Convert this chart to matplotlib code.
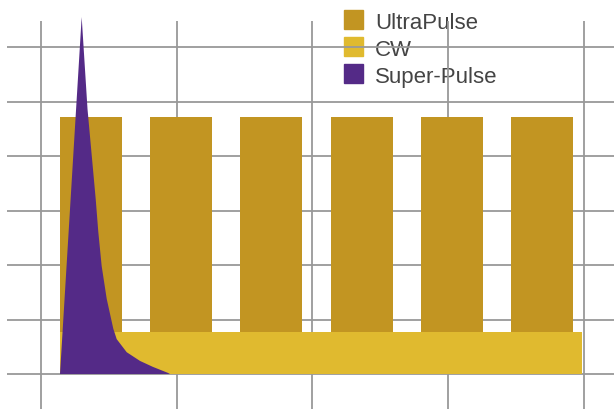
import matplotlib
matplotlib.use("Agg")
import matplotlib.pyplot as plt
from matplotlib.patches import Rectangle

# ---- data ----
ultra_x = [1.10, 3.09, 5.08, 7.09, 9.08, 11.07]
ultra_h = [4.72, 4.72, 4.72, 4.72, 4.72, 4.72]
cw_start = 0.42
cw_end = 11.96
cw_level = 0.77
sp_x = [0.42, 0.899, 1.028, 1.209, 1.266, 1.341, 1.452, 1.598, 1.673, 1.894, 2.188, 2.475, 2.807, 2.85]
sp_y = [0.00, 6.55, 4.86, 3.21, 2.61, 1.98, 1.38, 0.83, 0.64, 0.40, 0.24, 0.13, 0.02, 0.00]
labels = ["UltraPulse", "CW", "Super-Pulse"]

c_ultra = "#C29522"
c_cw = "#E0BA2F"
c_sp = "#542A87"
grid_c = "#999999"
colors = [c_ultra, c_cw, c_sp]

W, H = 614, 410
fig = plt.figure(figsize=(W / 100, H / 100), dpi=100)
ax = fig.add_axes([0, 0, 1, 1])
ax.set_xlim(-0.906, 12.663)
ax.set_ylim(-0.642, 6.881)
ax.axis("off")

# grid
for yv in range(0, 7):
    ax.hlines(yv, -0.75, 12.663, color=grid_c, lw=1.3, zorder=1)
for xv in [0, 3, 6, 9, 12]:
    ax.vlines(xv, -0.642, 6.48, color=grid_c, lw=1.3, zorder=1)

ax.bar(ultra_x, ultra_h, width=1.37, color=c_ultra, zorder=2)
ax.bar([cw_start], [cw_level], width=cw_end - cw_start, align="edge", color=c_cw, zorder=3)
ax.fill(sp_x, sp_y, color=c_sp, zorder=4, lw=0)

# legend (manual, figure pixel layout), drawn beneath the grid lines
for i, (lab, col) in enumerate(zip(labels, colors)):
    top = 11 + 27 * i
    fig.patches.append(Rectangle((344 / W, 1 - (top + 19) / H), 19 / W, 19 / H,
                                 transform=fig.transFigure, color=col, zorder=-2))
    fig.text(375 / W, 1 - (29 + 27 * i) / H, lab, fontsize=16, color="#444444",
             family="Liberation Sans", va="baseline", ha="left", zorder=-1)

fig.savefig("out.png", dpi=100)
